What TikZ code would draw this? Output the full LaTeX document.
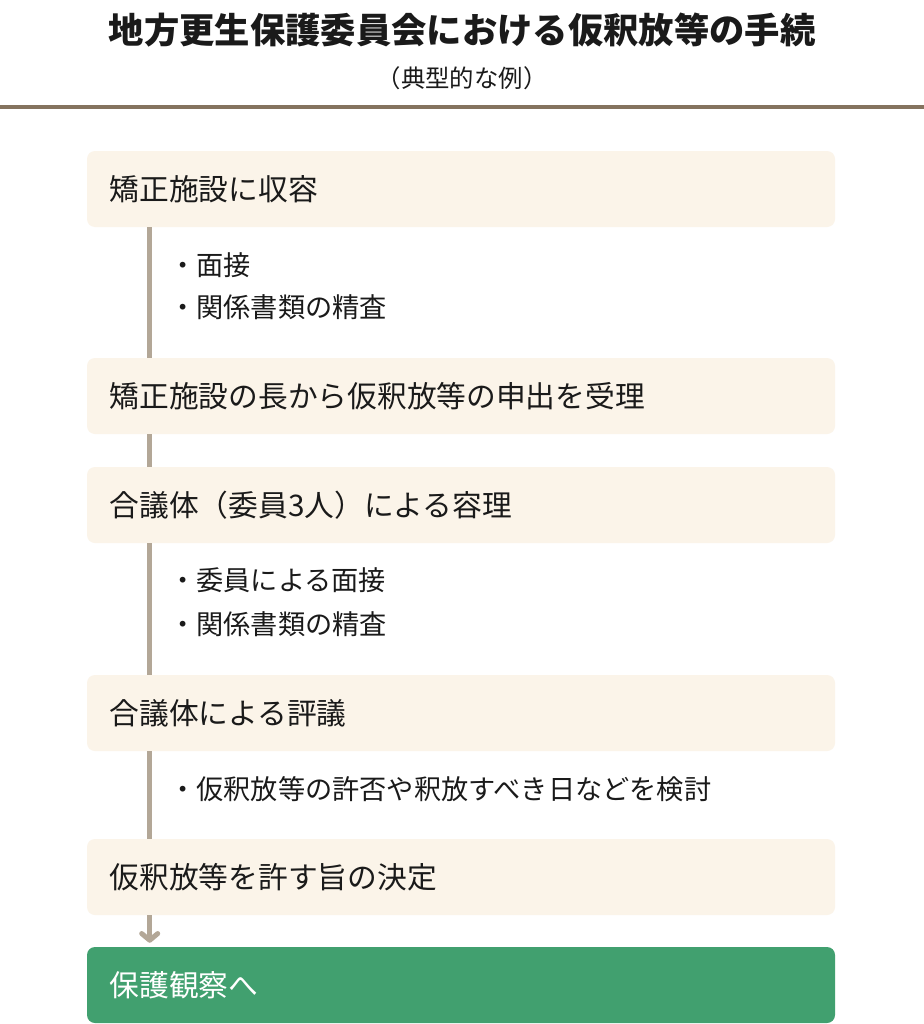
\documentclass[tikz,border=0pt]{standalone}
\usepackage{fontspec}
\setmainfont{Noto Sans CJK JP}
\usetikzlibrary{arrows.meta}
\definecolor{boxfill}{HTML}{FBF4E9}
\definecolor{rulecol}{HTML}{85735F}
\definecolor{linkcol}{HTML}{B3A797}
\definecolor{stepgreen}{HTML}{41A06F}
\definecolor{inkcol}{HTML}{1A1A1A}
\begin{document}
\begin{tikzpicture}[x=0.75pt,y=-0.75pt,
    stepbox/.style={rectangle,fill=boxfill,rounded corners=6pt,minimum width=561pt,minimum height=57pt,
        inner xsep=17pt,text width=527pt,align=left,text=inkcol,font=\fontsize{22.3}{26}\selectfont},
    endbox/.style={stepbox,fill=stepgreen,text=white},
    note/.style={anchor=west,inner sep=0,text=inkcol,font=\fontsize{20.4}{24}\selectfont},
    link/.style={draw=linkcol,line width=3.75pt}]
    \useasboundingbox[fill=white] (0,0) rectangle (924,1024);
    \node[font=\bfseries\fontsize{26.5}{30}\selectfont,text=inkcol] (title) at (462,30) {地方更生保護委員会における仮釈放等の手続};
    \node[font=\fontsize{18.3}{22}\selectfont,text=inkcol] (subtitle) at (462,78) {（典型的な例）};
    \draw[rulecol,line width=3pt] (0,107) -- (924,107);
    \node[stepbox] (b1) at (461,189) {矯正施設に収容};
    \node[stepbox] (b2) at (461,396) {矯正施設の長から仮釈放等の申出を受理};
    \node[stepbox] (b3) at (461,505) {合議体（委員3人）による容理};
    \node[stepbox] (b4) at (461,713) {合議体による評議};
    \node[stepbox] (b5) at (461,877) {仮釈放等を許す旨の決定};
    \node[endbox] (b6) at (461,985) {保護観察へ};
    \node[note] (n1) at (169,265) {・面接};
    \node[note] (n2) at (169,307) {・関係書類の精査};
    \node[note] (n3) at (169,580) {・委員による面接};
    \node[note] (n4) at (169,624) {・関係書類の精査};
    \node[note] (n5) at (169,789) {・仮釈放等の許否や釈放すべき日などを検討};
    \foreach \a/\b in {b1/b2,b2/b3,b3/b4,b4/b5}
        \draw[link] ([xshift=47.25pt]\a.south west) -- ([xshift=47.25pt]\b.north west);
    \draw[link,-{Straight Barb[length=5pt,width=12pt,round]},shorten >=3pt]
        ([xshift=47.25pt]b5.south west) -- ([xshift=47.25pt]b6.north west);
\end{tikzpicture}
\end{document}
